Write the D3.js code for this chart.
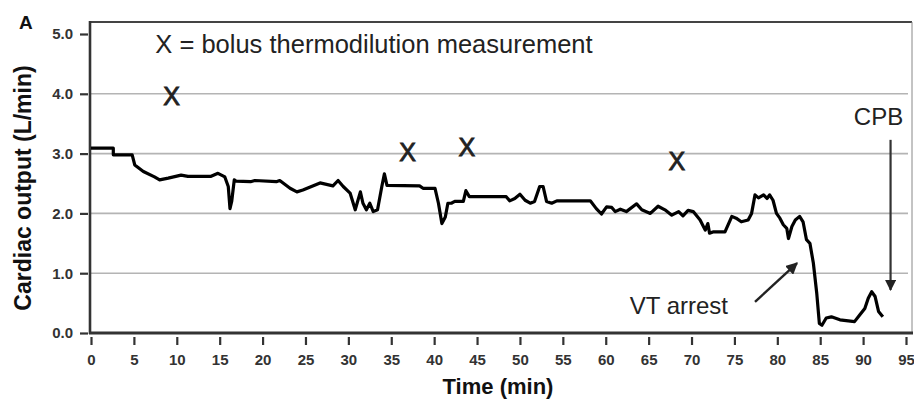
<!DOCTYPE html>
<html><head><meta charset="utf-8">
<script src="https://cdn.jsdelivr.net/npm/d3@7"></script>
<style>
body{margin:0;background:#fff;}
text{font-family:"Liberation Sans",Arial,sans-serif;}
</style></head>
<body><svg id="c" width="914" height="403"></svg>
<script>
// ---- data ----
const timeMin = [0,2.6,2.6,4.8,5.1,6.1,7.4,8.0,9.0,10.5,11.3,14.0,14.8,15.6,16.0,16.2,16.4,16.7,16.9,18.6,19.1,21.6,22.0,23.2,24.0,24.7,26.7,28.2,28.8,29.4,30.2,30.8,31.4,31.7,32.1,32.5,32.9,33.4,33.9,34.2,34.5,38.3,38.7,40.1,40.5,40.9,41.3,41.6,42.0,42.4,43.4,43.7,44.1,48.4,48.8,49.4,50.0,50.6,51.2,51.7,52.3,52.7,53.1,53.7,54.3,58.2,58.9,59.5,60.1,60.7,61.1,61.7,62.4,63.6,64.2,65.2,66.1,66.9,67.7,68.5,69.0,69.6,70.2,71.0,71.6,71.9,72.1,72.5,73.9,74.7,75.2,75.8,76.6,77.0,77.4,77.8,78.4,78.8,79.1,79.5,79.9,80.3,80.7,81.1,81.3,81.7,82.1,82.6,83.0,83.4,83.8,84.2,84.6,84.9,85.2,85.7,86.3,87.3,89.0,89.6,90.2,90.6,91.0,91.4,91.8,92.3];
const cardiacOutput = [3.09,3.09,2.98,2.98,2.81,2.70,2.61,2.56,2.59,2.64,2.62,2.62,2.67,2.61,2.45,2.08,2.2,2.56,2.54,2.53,2.55,2.53,2.55,2.42,2.36,2.39,2.51,2.46,2.55,2.45,2.34,2.06,2.36,2.17,2.06,2.17,2.03,2.06,2.45,2.66,2.47,2.46,2.42,2.42,2.17,1.83,1.94,2.17,2.17,2.2,2.2,2.38,2.28,2.28,2.21,2.25,2.32,2.22,2.17,2.2,2.45,2.45,2.2,2.17,2.21,2.21,2.08,1.99,2.11,2.10,2.03,2.07,2.03,2.16,2.06,2.0,2.12,2.06,1.97,2.03,1.96,2.05,2.03,1.89,1.72,1.83,1.67,1.69,1.69,1.95,1.92,1.86,1.89,2.0,2.31,2.26,2.31,2.25,2.31,2.22,2.0,1.92,1.81,1.75,1.58,1.78,1.89,1.95,1.86,1.56,1.50,1.17,0.66,0.16,0.13,0.25,0.27,0.22,0.19,0.30,0.41,0.58,0.69,0.61,0.36,0.27];
const bolusTime = [9.4, 36.9, 43.8, 68.3];
const bolusCO = [3.97, 3.03, 3.11, 2.88];
const xTicks = [0,5,10,15,20,25,30,35,40,45,50,55,60,65,70,75,80,85,90,95];
const yTicks = [0,1,2,3,4,5];
const gridValues = [1,2,3,4];

// ---- layout ----
const svg = d3.select("#c");
const x = d3.scaleLinear().domain([0,95]).range([91,906]);
const y = d3.scaleLinear().domain([0,5]).range([333,34]);
const pL = 90, pR = 912, pT = 22, pB = 333;

// gridlines
svg.append("g").selectAll("line").data(gridValues).join("line")
  .attr("x1", pL).attr("x2", pR-4)
  .attr("y1", d=>y(d)).attr("y2", d=>y(d))
  .attr("stroke", "#b4b4b4").attr("stroke-width", 1.6);

// frame top / right
svg.append("line").attr("x1",pL).attr("x2",pR).attr("y1",pT).attr("y2",pT)
  .attr("stroke","#444").attr("stroke-width",2);
svg.append("line").attr("x1",pR).attr("x2",pR).attr("y1",pT).attr("y2",pB)
  .attr("stroke","#888").attr("stroke-width",1);

// y axis
const yAxis = d3.axisLeft(y).tickValues(yTicks).tickFormat(d3.format(".1f")).tickSize(8).tickPadding(7);
const gy = svg.append("g").attr("transform",`translate(${pL-2},0)`).call(yAxis);
gy.select(".domain").remove();
gy.selectAll(".tick line").attr("stroke","#333").attr("stroke-width",2.2);
gy.selectAll(".tick text").attr("fill","#333").style("font-size","15px").style("font-weight","bold")
  .style("font-family","'Liberation Sans',Arial,sans-serif");
svg.append("line").attr("x1",pL).attr("x2",pL).attr("y1",pT-1).attr("y2",pB+1)
  .attr("stroke","#333").attr("stroke-width",2.6);

// x axis
const xAxis = d3.axisBottom(x).tickValues(xTicks).tickFormat(d3.format("d")).tickSize(8).tickPadding(9);
const gx = svg.append("g").attr("transform",`translate(0,${pB+4})`).call(xAxis);
gx.select(".domain").remove();
gx.selectAll(".tick line").attr("stroke","#333").attr("stroke-width",2.2);
gx.selectAll(".tick text").attr("fill","#333").style("font-size","15px").style("font-weight","bold")
  .style("font-family","'Liberation Sans',Arial,sans-serif");
svg.append("line").attr("x1",pL-1).attr("x2",pR+1).attr("y1",pB).attr("y2",pB)
  .attr("stroke","#333").attr("stroke-width",2.8);

// line
const pts = d3.zip(timeMin, cardiacOutput);
svg.append("path").datum(pts)
  .attr("d", d3.line().x(d=>x(d[0])).y(d=>y(d[1])))
  .attr("fill","none").attr("stroke","#000").attr("stroke-width",3.2).attr("stroke-linejoin","round");

// bolus markers
svg.append("g").selectAll("text").data(d3.zip(bolusTime,bolusCO)).join("text")
  .attr("x", d=>x(d[0])).attr("y", d=>y(d[1]))
  .attr("text-anchor","middle").attr("dominant-baseline","central")
  .style("font-size","25px").attr("fill","#222").attr("stroke","#222").attr("stroke-width",0.9)
  .text("X");

// legend text
svg.append("text").attr("x", x(7.5)).attr("y", y(4.68))
  .style("font-size","25.5px").attr("fill","#222").text("X = bolus thermodilution measurement");

// arrowheads
const defs = svg.append("defs");
defs.append("marker").attr("id","ah").attr("viewBox","0 0 10 10").attr("refX",9).attr("refY",5)
  .attr("markerWidth",5).attr("markerHeight",5).attr("orient","auto")
  .append("path").attr("d","M0,0 L10,5 L0,10 z").attr("fill","#222");

// CPB
svg.append("text").attr("x", x(91.8)).attr("y", y(3.47)).attr("text-anchor","middle")
  .style("font-size","24px").attr("fill","#222").text("CPB");
svg.append("line").attr("x1",x(93.2)).attr("x2",x(93.2)).attr("y1",y(3.23)).attr("y2",y(0.72))
  .attr("stroke","#333").attr("stroke-width",2.2).attr("marker-end","url(#ah)");

// VT arrest
svg.append("text").attr("x", x(62.8)).attr("y", y(0.31))
  .style("font-size","24px").attr("fill","#222").text("VT arrest");
svg.append("line").attr("x1",x(77.4)).attr("y1",y(0.52)).attr("x2",x(82.3)).attr("y2",y(1.17))
  .attr("stroke","#222").attr("stroke-width",2.4).attr("marker-end","url(#ah)");

// titles
svg.append("text").attr("x",19).attr("y",29).style("font-size","19px").style("font-weight","bold")
  .attr("fill","#111").text("A");
svg.append("text").attr("transform",`translate(31,188) rotate(-90)`)
  .attr("text-anchor","middle").style("font-size","23px").style("font-weight","bold")
  .attr("fill","#111").text("Cardiac output (L/min)");
svg.append("text").attr("x",498).attr("y",394).attr("text-anchor","middle")
  .style("font-size","22px").style("font-weight","bold").attr("fill","#111").text("Time (min)");
</script></body></html>
